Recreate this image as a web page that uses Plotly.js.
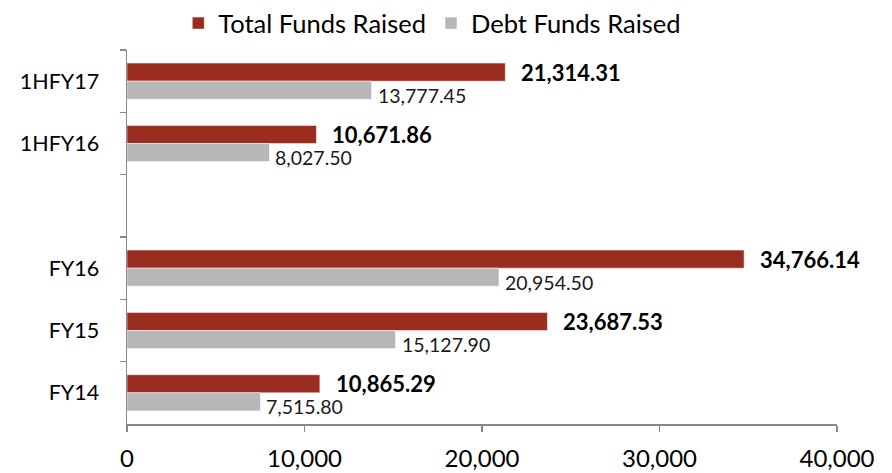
<!DOCTYPE html>
<html>
<head>
<meta charset="utf-8">
<script src="https://cdn.plot.ly/plotly-3.0.1.min.js"></script>
<style>html,body{margin:0;padding:0;background:#fff;}#chart{width:892px;height:473px;}</style>
</head>
<body>
<div id="chart"></div>
<script>
const categories = ["1HFY17", "1HFY16", " ", "FY16", "FY15", "FY14"];
const totalFunds = [21314.31, 10671.86, null, 34766.14, 23687.53, 10865.29];
const debtFunds = [13777.45, 8027.50, null, 20954.50, 15127.90, 7515.80];
const xTicks = [0, 10000, 20000, 30000, 40000];

const fmt = v => v.toLocaleString('en-US', {minimumFractionDigits: 2, maximumFractionDigits: 2});

const traces = [
  {type: 'bar', orientation: 'h', name: 'Total Funds Raised', y: categories, x: totalFunds,
   marker: {color: '#9B2D20', line: {color: '#ffffff', width: 0.5}}, hoverinfo: 'skip'},
  {type: 'bar', orientation: 'h', name: 'Debt Funds Raised', y: categories, x: debtFunds,
   marker: {color: '#B7B7B7', line: {color: '#ffffff', width: 0.5}}, hoverinfo: 'skip'}
];

const annotations = [];
categories.forEach((c, i) => {
  if (totalFunds[i] !== null) {
    annotations.push({x: totalFunds[i], y: c, xref: 'x', yref: 'y', text: '<b>' + fmt(totalFunds[i]) + '</b>',
      showarrow: false, xanchor: 'left', yanchor: 'middle', xshift: 14, yshift: 9,
      font: {family: 'Lato, sans-serif', size: 22, color: '#000'}});
  }
  if (debtFunds[i] !== null) {
    annotations.push({x: debtFunds[i], y: c, xref: 'x', yref: 'y', text: fmt(debtFunds[i]),
      showarrow: false, xanchor: 'left', yanchor: 'middle', xshift: 4, yshift: -14,
      font: {family: 'Lato, sans-serif', size: 19.5, color: '#1a1a1a'}});
  }
});

const layout = {
  width: 892, height: 473,
  margin: {l: 127, r: 55, t: 50, b: 49, autoexpand: false},
  paper_bgcolor: '#fff', plot_bgcolor: '#fff',
  font: {family: 'Lato, sans-serif', size: 21, color: '#000'},
  barmode: 'group', bargap: 0.42, bargroupgap: 0,
  showlegend: true,
  legend: {orientation: 'h', x: 0.43, xanchor: 'center', y: 1, yanchor: 'top', yref: 'container',
    font: {size: 25.5, color: '#000'}, itemwidth: 30, traceorder: 'normal'},
  xaxis: {range: [0, 40000], tickvals: xTicks, ticktext: xTicks.map(v => v.toLocaleString('en-US')),
    showgrid: false, zeroline: false, showline: true, linecolor: '#888', linewidth: 1.5,
    ticks: 'outside', ticklen: 6, tickcolor: '#888', tickwidth: 1.5,
    tickfont: {size: 24, color: '#000'}, ticklabelstandoff: 7, fixedrange: true},
  yaxis: {type: 'category', categoryorder: 'array', categoryarray: categories, autorange: 'reversed',
    tickson: 'boundaries', ticks: 'outside', ticklen: 6, tickcolor: '#888', tickwidth: 1.5,
    showline: true, linecolor: '#888', linewidth: 1.5, showgrid: false, zeroline: false,
    tickfont: {size: 21.5, color: '#000'}, ticklabelstandoff: 22, fixedrange: true},
  annotations: annotations
};

Plotly.newPlot('chart', traces, layout, {displayModeBar: false, staticPlot: true});
</script>
</body>
</html>
